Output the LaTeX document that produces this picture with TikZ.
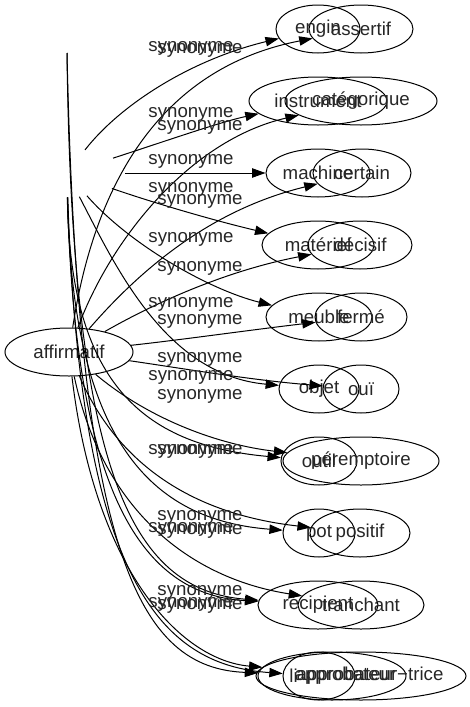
\documentclass[tikz,border=0pt]{standalone}
\usepackage{fontspec}
\setmainfont{Liberation Sans}
\usetikzlibrary{arrows.meta,shapes.geometric}
\begin{document}
\begin{tikzpicture}[x=0.75pt,y=-0.75pt,
  every node/.style={font=\fontsize{14}{16}\selectfont, text=black!85},
  nd/.style={draw, ellipse, line width=0.75pt, inner sep=0pt, minimum height=36pt},
  hid/.style={ellipse, inner sep=0pt, minimum height=36pt},
  txt/.style={inner sep=0pt},
  lbl/.style={inner sep=0pt},
  edge/.style={line width=0.75pt, -{Triangle[length=10pt,width=7pt]}}
]
\useasboundingbox (0,0) rectangle (470,707);
% sources
\node[nd, minimum width=96pt] (A) at (69,352) {affirmatif};
\node[hid, minimum width=87pt] (G) at (67,173) {};
\coordinate (S) at (67,53);
% left column
\node[nd, minimum width=63pt]   (n1) at (318,29)  {engin};
\node[nd, minimum width=103.5pt](n2) at (318,101) {instrument};
\node[nd, minimum width=78pt]   (n3) at (318,173) {machine};
\node[nd, minimum width=84pt]   (n4) at (318,245) {matériel};
\node[nd, minimum width=79.5pt] (n5) at (319,317) {meuble};
\node[nd, minimum width=60pt]   (n6) at (319,389) {objet};
\node[nd, minimum width=57pt]   (n7) at (319,461) {outil};
\node[nd, minimum width=54pt]   (n8) at (319,533) {pot};
\node[nd, minimum width=90pt]   (n9) at (318,605) {récipient};
\node[nd, minimum width=54pt]   (n10) at (319,676) {};
\node[nd, minimum width=111pt]  (B) at (332,676) {};
% right column
\node[nd, minimum width=78pt]   (m1) at (361,29)  {assertif};
\node[nd, minimum width=114pt]  (m2) at (361,101) {catégorique};
\node[nd, minimum width=73.5pt] (m3) at (362,173) {certain};
\node[nd, minimum width=78pt]   (m4) at (360,245) {décisif};
\node[nd, minimum width=69pt]   (m5) at (361,317) {fermé};
\node[nd, minimum width=57pt]   (m6) at (361,389) {ouï};
\node[nd, minimum width=117pt]  (m7) at (361,461) {péremptoire};
\node[nd, minimum width=75pt]   (m8) at (360,533) {positif};
\node[nd, minimum width=94.5pt] (m9) at (361,605) {tranchant};
\node[nd, minimum width=157.5pt](m10) at (361,676) {};
% row 10 texts
\node[txt] (t1) at (293.5,676) {li};
\node[txt] (t2) at (345,676) {approbateur};
\node[txt] (t3) at (370,676) {approbateur−trice};
% edges from G
\draw[edge] (G) .. controls (120,105) and (190,60) .. (n1);
\draw[edge] (G) .. controls (160,143) and (220,122) .. (n2);
\draw[edge] (G) -- (n3);
\draw[edge] (G) .. controls (160,205) and (220,222) .. (n4);
\draw[edge] (G) .. controls (130,245) and (210,290) .. (n5);
\draw[edge] (G) .. controls (115,265) and (165,375) .. (n6);
\draw[edge] (G) .. controls (70,380) and (140,445) .. (n7);
\draw[edge] (G) .. controls (72,440) and (150,520) .. (n8);
\draw[edge] (G) .. controls (75,510) and (150,595) .. (n9);
\draw[edge] (G) .. controls (80,580) and (160,665) .. (n10);
% edges from spike
\draw[edge] (S) .. controls (72,470) and (130,590) .. (n9);
\draw[edge] (S) .. controls (78,560) and (140,668) .. (B);
% edges from A
\draw[edge] (A) .. controls (92,200) and (150,70) .. (m1);
\draw[edge] (A) .. controls (110,240) and (190,140) .. (m2);
\draw[edge] (A) .. controls (140,270) and (210,210) .. (m3);
\draw[edge] (A) .. controls (160,300) and (230,270) .. (m4);
\draw[edge] (A) .. controls (180,340) and (250,330) .. (m5);
\draw[edge] (A) .. controls (180,368) and (250,380) .. (m6);
\draw[edge] (A) .. controls (150,420) and (220,445) .. (m7);
\draw[edge] (A) .. controls (120,470) and (200,515) .. (m8);
\draw[edge] (A) .. controls (105,520) and (200,580) .. (m9);
\draw[edge] (A) .. controls (95,570) and (180,660) .. (m10);
% labels
\node[lbl] (l1)  at (191,48)  {synonyme};
\node[lbl] (l2)  at (200,50)  {synonyme};
\node[lbl] (l3)  at (191,114) {synonyme};
\node[lbl] (l4)  at (200,127) {synonyme};
\node[lbl] (l5)  at (191,161) {synonyme};
\node[lbl] (l6)  at (191,189) {synonyme};
\node[lbl] (l7)  at (200,201) {synonyme};
\node[lbl] (l8)  at (191,239) {synonyme};
\node[lbl] (l9)  at (200,268) {synonyme};
\node[lbl] (l10) at (191,304) {synonyme};
\node[lbl] (l11) at (200,321) {synonyme};
\node[lbl] (l12) at (200,359) {synonyme};
\node[lbl] (l13) at (191,377) {synonyme};
\node[lbl] (l14) at (200,396) {synonyme};
\node[lbl] (l15) at (191,451) {synonyme};
\node[lbl] (l16) at (200,451) {synonyme};
\node[lbl] (l17) at (200,517) {synonyme};
\node[lbl] (l18) at (191,529) {synonyme};
\node[lbl] (l19) at (200,531) {synonyme};
\node[lbl] (l20) at (200,592) {synonyme};
\node[lbl] (l21) at (191,604) {synonyme};
\node[lbl] (l22) at (200,606) {synonyme};
\end{tikzpicture}
\end{document}
